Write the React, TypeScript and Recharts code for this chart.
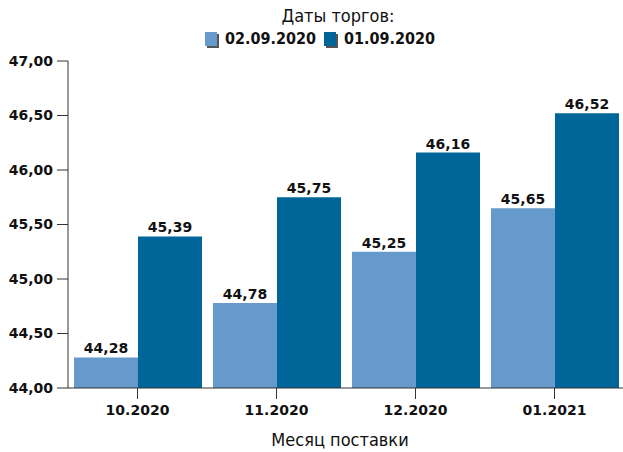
import React from "react";
import { BarChart, Bar, XAxis, YAxis, LabelList } from "recharts";

const months = ["10.2020", "11.2020", "12.2020", "01.2021"];
const series02 = [44.28, 44.78, 45.25, 45.65];
const series01 = [45.39, 45.75, 46.16, 46.52];
const yTicks = [44, 44.5, 45, 45.5, 46, 46.5, 47];

const LIGHT = "#6699cc";
const DARK = "#006699";
const AXIS = "#333333";

const data = months.map((m, i) => ({
  month: m,
  d02: series02[i],
  d01: series01[i],
}));

const fmt = (v: number) => v.toFixed(2).replace(".", ",");

const tickFont = {
  fontFamily: "DejaVu Sans",
  fontSize: 14,
  fontWeight: "bold" as const,
  fill: "#111",
};

export default function App() {
  return (
    <div
      style={{
        position: "absolute",
        left: 0,
        top: 0,
        width: 625,
        height: 452,
        overflow: "hidden",
        background: "#fff",
      }}
    >
      <div
        style={{
          position: "absolute",
          left: 0,
          top: 6,
          width: 676,
          textAlign: "center",
          fontFamily: "DejaVu Sans Condensed",
          fontSize: 18,
          color: "#111",
          lineHeight: "20px",
        }}
      >
        Даты торгов:
      </div>
      <div
        style={{
          position: "absolute",
          left: 205,
          top: 29,
          display: "flex",
          alignItems: "center",
          fontFamily: "DejaVu Sans Condensed",
          fontWeight: "bold",
          fontSize: 16,
          color: "#111",
          gap: 8,
        }}
      >
        {[
          { label: "02.09.2020", color: LIGHT },
          { label: "01.09.2020", color: DARK },
        ].map((z) => (
          <div key={z.label} style={{ display: "flex", alignItems: "center", gap: 8 }}>
            <span
              style={{
                display: "block",
                width: 12,
                height: 14,
                background: z.color,
                boxShadow: "2px 2px 0 #555",
              }}
            />
            <span>{z.label}</span>
          </div>
        ))}
      </div>
      <BarChart
        width={625}
        height={452}
        data={data}
        margin={{ top: 61, right: 1, bottom: 0, left: 0 }}
        barCategoryGap={6}
        barGap={0}
      >
        <XAxis
          dataKey="month"
          height={64}
          stroke={AXIS}
          tickSize={11}
          tickMargin={6}
          tick={tickFont}
          label={{
            value: "Месяц поставки",
            position: "insideBottom",
            offset: 6,
            dx: -6,
            style: {
              fontFamily: "DejaVu Sans Condensed",
              fontSize: 18,
              fill: "#111",
            },
          }}
        />
        <YAxis
          width={68}
          domain={[44, 47]}
          ticks={yTicks}
          stroke={AXIS}
          tickSize={11}
          tickMargin={4}
          tick={tickFont}
          tickFormatter={fmt}
          allowDataOverflow
        />
        <Bar dataKey="d02" fill={LIGHT} isAnimationActive={false}>
          <LabelList
            dataKey="d02"
            position="top"
            offset={4}
            formatter={(v: number) => fmt(v)}
            style={tickFont}
          />
        </Bar>
        <Bar dataKey="d01" fill={DARK} isAnimationActive={false}>
          <LabelList
            dataKey="d01"
            position="top"
            offset={4}
            formatter={(v: number) => fmt(v)}
            style={tickFont}
          />
        </Bar>
      </BarChart>
    </div>
  );
}
